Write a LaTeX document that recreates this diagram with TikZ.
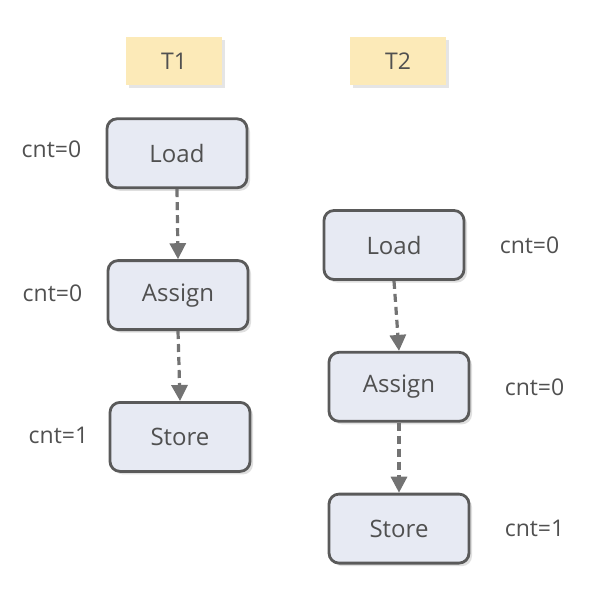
\documentclass[tikz,border=0pt]{standalone}
\usepackage{fontspec}
\setmainfont{Open Sans}
\usetikzlibrary{positioning,arrows.meta,shadows}
\definecolor{boxfill}{HTML}{E7EAF3}
\definecolor{boxline}{HTML}{5A5A5A}
\definecolor{tfill}{HTML}{FCEAB8}
\definecolor{txt}{HTML}{505050}
\tikzstyle{opbox}=[rectangle, rounded corners=5pt, draw=boxline, fill=boxfill, line width=1.4pt,
 minimum width=70pt, minimum height=34.5pt, inner sep=2pt, text centered, text=txt,
 font=\fontsize{12}{14}\selectfont,
 drop shadow={shadow xshift=1.5pt, shadow yshift=-1.5pt, fill=black!25}]
\tikzstyle{tbox}=[rectangle, fill=tfill, minimum width=48pt, minimum height=24pt, text=txt,
 drop shadow={shadow xshift=1.5pt, shadow yshift=-1.5pt, fill=black!20}]
\tikzstyle{cntlabel}=[text=txt, inner sep=0pt]
\tikzstyle{dline}=[-{Triangle[length=8pt,width=8pt]}, line width=1.6pt, dash pattern=on 4pt off 2.5pt, boxline!85]

\begin{document}
\begin{tikzpicture}[x=0.5pt, y=0.5pt, node distance=0mm, font=\fontsize{11.5}{13}\selectfont]
    \useasboundingbox (0,0) rectangle (592,-594);

% threads
    \node (t1) [tbox] at (174,-61) {T1};
    \node (t2) [tbox] at (398,-61) {T2};

% thread 1
    \node (ld1) [opbox, below=16pt of t1, xshift=1.5pt] {Load};
    \node (as1) [opbox, below=35pt of ld1, xshift=0.5pt] {Assign};
    \node (st1) [opbox, below=35pt of as1, xshift=1pt] {Store};

% thread 2
    \node (ld2) [opbox] at (394,-245) {Load};
    \node (as2) [opbox, below=35pt of ld2, xshift=2.5pt] {Assign};
    \node (st2) [opbox, below=35pt of as2] {Store};

% values
    \node (c1) [cntlabel, left=12pt of ld1, yshift=2pt] {cnt=0};
    \node (c2) [cntlabel, left=12pt of as1, yshift=1pt] {cnt=0};
    \node (c3) [cntlabel, left=10pt of st1, yshift=1pt] {cnt=1};
    \node (c4) [cntlabel, right=17pt of ld2] {cnt=0};
    \node (c5) [cntlabel, right=17pt of as2] {cnt=0};
    \node (c6) [cntlabel, right=17pt of st2] {cnt=1};

% lines
   \draw[dline] (ld1.south) -- (as1.north);
   \draw[dline] (as1.south) -- (st1.north);
   \draw[dline] (ld2.south) -- (as2.north);
   \draw[dline] (as2.south) -- (st2.north);
\end{tikzpicture}
\end{document}
